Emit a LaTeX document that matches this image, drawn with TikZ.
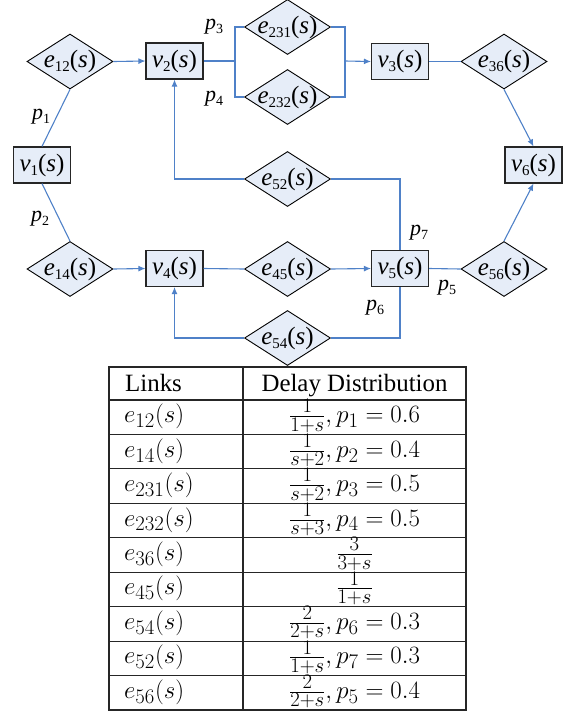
\documentclass[tikz,border=0pt]{standalone}
\usepackage{fontspec}
\setmainfont{Liberation Serif}[ItalicFont={Liberation Serif Italic},BoldFont={Liberation Serif Bold}]
\newfontfamily\labfont{Liberation Serif Italic}
\newfontfamily\upfont{Liberation Serif}
\usetikzlibrary{shapes.geometric,arrows.meta}
\definecolor{nodefill}{RGB}{230,237,248}
\definecolor{linkblue}{RGB}{79,129,200}
\newcommand{\dl}[2]{{\fontsize{25}{25}\selectfont{\labfont #1}\raisebox{-0.35ex}{\upfont\fontsize{15}{15}\selectfont #2}{\upfont (}{\labfont s}{\upfont )}}}
\newcommand{\pl}[1]{{\fontsize{22}{22}\selectfont{\labfont p}\raisebox{-0.35ex}{\upfont\fontsize{14}{14}\selectfont #1}}}
\begin{document}
\begin{tikzpicture}[x=1pt,y=-1pt,
  dia/.style={diamond, draw=black, fill=nodefill, minimum width=86pt, minimum height=55pt, inner sep=0pt, line width=0.9pt},
  vbox/.style={rectangle, draw=black!85, fill=nodefill, minimum width=57pt, minimum height=36pt, inner sep=0pt, line width=1.1pt},
  link/.style={draw=linkblue, line width=1.1pt},
  arr/.style={link, -{Latex[length=7pt,width=6pt]}},
  plab/.style={inner sep=0pt},
  tbl/.style={draw=black!85, line width=1.1pt},
  ttext/.style={inner sep=0pt, font=\upfont\fontsize{24.88}{30}\selectfont},
  lcol/.style={ttext, anchor=base west},
  rcol/.style={ttext, anchor=base}]
\useasboundingbox (0,0) rectangle (569,715);
% vertex boxes
\node[vbox] (v1) at (42,165) {\dl{v}{1}};
\node[vbox] (v2) at (174.5,61) {\dl{v}{2}};
\node[vbox] (v3) at (400,61.5) {\dl{v}{3}};
\node[vbox] (v4) at (174.5,268.5) {\dl{v}{4}};
\node[vbox] (v5) at (400,268.5) {\dl{v}{5}};
\node[vbox] (v6) at (533.5,165) {\dl{v}{6}};
% link diamonds
\node[dia, label=center:{\dl{e}{12}}] (e12) at (70,61.5) {};
\node[dia, label=center:{\dl{e}{231}}] (e231) at (287.5,27) {};
\node[dia, label=center:{\dl{e}{232}}] (e232) at (287.5,97) {};
\node[dia, label=center:{\dl{e}{36}}] (e36) at (504,61.5) {};
\node[dia, label=center:{\dl{e}{52}}] (e52) at (287.5,179) {};
\node[dia, label=center:{\dl{e}{14}}] (e14) at (70,269) {};
\node[dia, label=center:{\dl{e}{45}}] (e45) at (287.5,269) {};
\node[dia, label=center:{\dl{e}{54}}] (e54) at (287.5,338) {};
\node[dia, label=center:{\dl{e}{56}}] (e56) at (504,269) {};
% connectors
\coordinate (b1) at (235,61);
\coordinate (b2) at (345,61);
\draw[link] (v1.north) -- (e12.south);
\draw[link] (v1.south) -- (e14.north);
\draw[arr] (e12.east) -- (v2.west);
\draw[arr] (e14.east) -- (v4.west);
\draw[link] (v2.east) -- (b1);
\draw[link] (e231.west) -| (b1) |- (e232.west);
\draw[link] (e231.east) -| (b2) |- (e232.east);
\draw[arr] (b2) -- (v3.west);
\draw[link] (v3.east) -- (e36.west);
\draw[arr] (e36.south) -- (v6.north);
\draw[arr] (e56.north) -- (v6.south);
\draw[link] (v4.east) -- (e45.west);
\draw[arr] (e45.east) -- (v5.west);
\draw[link] (v5.east) -- (e56.west);
\draw[link] (v5.north) |- (e52.east);
\draw[arr] (e52.west) -| (v2.south);
\draw[link] (v5.south) |- (e54.east);
\draw[arr] (e54.west) -| (v4.south);
% probability labels
\node[plab] (p1) at (41,117) {\pl{1}};
\node[plab] (p2) at (40,219) {\pl{2}};
\node[plab] (p3) at (214,27) {\pl{3}};
\node[plab] (p4) at (214,99) {\pl{4}};
\node[plab] (p7) at (419,233) {\pl{7}};
\node[plab] (p6) at (375,308) {\pl{6}};
\node[plab] (p5) at (447,288) {\pl{5}};
% table
\draw[tbl] (109,367) rectangle (466,710);
\draw[tbl] (243,367) -- (243,710);
\foreach \k in {0,...,8} \draw[tbl] (109,{400+34.44*\k}) -- (466,{400+34.44*\k});
\node[lcol] (hl) at (125,391) {Links};
\node[rcol] (hr) at (354.5,391) {Delay Distribution};
\node[lcol] (l1) at (124,422.7) {$e_{12}(s)$};
\node[rcol] (r1) at (354.5,422.7) {$\frac{1}{1+s},p_1=0.6$};
\node[lcol] (l2) at (124,457.2) {$e_{14}(s)$};
\node[rcol] (r2) at (354.5,457.2) {$\frac{1}{s+2},p_2=0.4$};
\node[lcol] (l3) at (124,491.6) {$e_{231}(s)$};
\node[rcol] (r3) at (354.5,491.6) {$\frac{1}{s+2},p_3=0.5$};
\node[lcol] (l4) at (124,526.0) {$e_{232}(s)$};
\node[rcol] (r4) at (354.5,526.0) {$\frac{1}{s+3},p_4=0.5$};
\node[lcol] (l5) at (124,560.5) {$e_{36}(s)$};
\node[rcol] (r5) at (354.5,560.5) {$\frac{3}{3+s}$};
\node[lcol] (l6) at (124,594.9) {$e_{45}(s)$};
\node[rcol] (r6) at (354.5,594.9) {$\frac{1}{1+s}$};
\node[lcol] (l7) at (124,629.4) {$e_{54}(s)$};
\node[rcol] (r7) at (354.5,629.4) {$\frac{2}{2+s},p_6=0.3$};
\node[lcol] (l8) at (124,663.8) {$e_{52}(s)$};
\node[rcol] (r8) at (354.5,663.8) {$\frac{1}{1+s},p_7=0.3$};
\node[lcol] (l9) at (124,698.3) {$e_{56}(s)$};
\node[rcol] (r9) at (354.5,698.3) {$\frac{2}{2+s},p_5=0.4$};
\end{tikzpicture}
\end{document}
